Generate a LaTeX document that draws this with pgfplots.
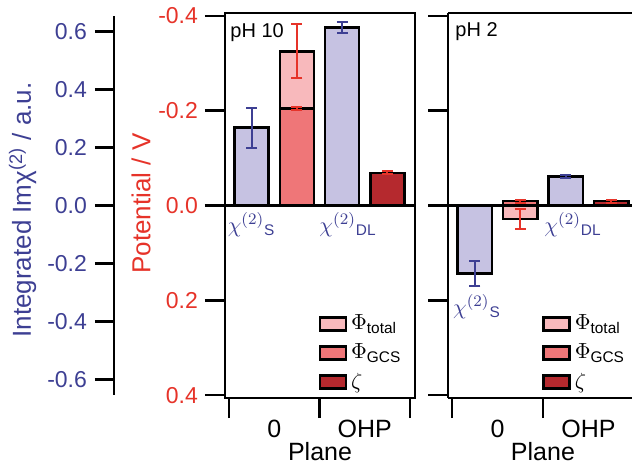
\documentclass[border=0pt]{standalone}
\usepackage{pgfplots}
\pgfplotsset{compat=1.18}
\usepackage{fontspec}
\setmainfont{Liberation Sans}
\definecolor{bluetxt}{RGB}{61,63,147}
\definecolor{redtxt}{RGB}{230,51,41}
\definecolor{lav}{RGB}{198,194,226}
\definecolor{pinkA}{RGB}{248,185,188}
\definecolor{pinkB}{RGB}{239,118,120}
\definecolor{darkred}{RGB}{181,41,46}
\newcommand\tfs{\fontsize{11.5}{13}\selectfont}
\newcommand\xfs{\fontsize{12.5}{14}\selectfont}
\newcommand\lfs{\fontsize{13}{15}\selectfont}
\newcommand\gfs{\fontsize{11}{13}\selectfont}
\pgfplotsset{
  mybar/.style={ybar, bar width=0.375, bar shift=0pt, draw=black, line width=1.2pt,
    legend image code/.code={\draw[##1, line width=1.2pt] (0pt,-3.25pt) rectangle (13pt,3.25pt);}},
  rederr/.style={error bars/.cd, y dir=both, y explicit,
    error bar style={redtxt, line width=1pt},
    error mark options={redtxt, rotate=90, mark size=2.75pt, line width=1pt}},
  blueerr/.style={error bars/.cd, y dir=both, y explicit,
    error bar style={bluetxt, line width=1pt},
    error mark options={bluetxt, rotate=90, mark size=2.75pt, line width=1pt}},
  redpanel/.style={
    anchor=south west, scale only axis, height=192.5pt,
    xmin=-0.044, ymin=-0.406, ymax=0.406, y dir=reverse,
    axis line style={line width=1.2pt},
    tick style={line width=1.2pt, black}, tick align=outside, major tick length=10pt,
    xtick={0,1,2}, xticklabels={},
    extra x ticks={0.5,1.5}, extra x tick labels={0,OHP},
    extra x tick style={major tick length=0pt, tick label style={font=\xfs, yshift=-7.5pt}},
    xtick pos=left, ytick pos=left,
    ytick={-0.4,-0.2,0,0.2,0.4},
    yticklabel style={redtxt, font=\tfs, /pgf/number format/.cd, fixed, fixed zerofill, precision=1, assume math mode=true},
    xlabel={Plane}, 
    legend style={draw=none, fill=none, font=\gfs, row sep=1.5pt, inner sep=0pt, anchor=north west},
    legend cell align=left,
  },
  bluepanel/.style={
    anchor=south west, scale only axis, height=192.5pt,
    xmin=-0.044, ymin=-0.664, ymax=0.664, hide axis,
  },
}
\begin{document}
\begin{tikzpicture}
\useasboundingbox (0,0) rectangle (316pt,234pt);
% panel 1 red
\begin{axis}[redpanel, at={(112.5pt,35pt)}, width=95pt, xmax=2.055,
  ylabel={Potential / V},
  ylabel style={redtxt, font=\lfs, at={([xshift=-42pt,yshift=1pt]rel axis cs:0,0.5)}, anchor=center},
  xlabel style={font=\xfs, at={(axis description cs:0.5,-0.138)}, anchor=center},
  extra y ticks={0}, extra y tick labels={}, extra y tick style={grid=major, major grid style={black, line width=1.2pt}},
  legend style={at={(axis description cs:0.491,0.227)}},
]
\addplot[mybar, fill=pinkA, rederr] coordinates {(0.75,-0.325) +- (0,0.057)};
\addlegendentry{$\Phi$\textsubscript{total}}
\addplot[mybar, fill=pinkB, rederr] coordinates {(0.75,-0.205) +- (0,0.003)};
\addlegendentry{$\Phi$\textsubscript{GCS}}
\addplot[mybar, fill=darkred, rederr] coordinates {(1.75,-0.069) +- (0,0.003)};
\addlegendentry{$\zeta$}
\node[anchor=north west, inner sep=0pt, font=\fontsize{10}{12}\selectfont] at ([xshift=2.5pt,yshift=-5pt]rel axis cs:0,1) {pH 10};
\end{axis}
% panel 1 blue (chi bars) + blue left axis line and ticks
\begin{axis}[bluepanel, at={(112.5pt,35pt)}, width=95pt, xmax=2.055, clip=false, unbounded coords=jump]
\addplot[mybar, fill=lav, blueerr] coordinates {(0.25,0.269) +- (0,0.069) (1.25,0.614) +- (0,0.02)};
\addplot[black, line width=1.2pt, mark=none] coordinates {(-1.271,-0.652) (-1.271,0.652)};
\addplot[black, line width=1.2pt, mark=none] coordinates {
  (-1.481,-0.6) (-1.271,-0.6) (-1.4,inf)
  (-1.481,-0.4) (-1.271,-0.4) (-1.4,inf)
  (-1.481,-0.2) (-1.271,-0.2) (-1.4,inf)
  (-1.481,0) (-1.271,0) (-1.4,inf)
  (-1.481,0.2) (-1.271,0.2) (-1.4,inf)
  (-1.481,0.4) (-1.271,0.4) (-1.4,inf)
  (-1.481,0.6) (-1.271,0.6)};
\node[bluetxt, font=\gfs] at (axis cs:0.25,-0.066) {$\chi^{(2)}$\textsubscript{S}};
\node[bluetxt, font=\gfs] at (axis cs:1.315,-0.066) {$\chi^{(2)}$\textsubscript{DL}};
\end{axis}
% panel 2 red
\begin{axis}[redpanel, at={(224pt,35pt)}, width=92pt, xmax=1.978,
  axis y line*=left, axis x line*=box,
  yticklabels={},
  xlabel style={font=\xfs, at={(axis description cs:0.516,-0.138)}, anchor=center},
  extra y ticks={0}, extra y tick labels={}, extra y tick style={grid=major, major grid style={black, line width=1.2pt}},
  legend style={at={(axis description cs:0.511,0.227)}},
]
\addplot[mybar, fill=pinkA, rederr] coordinates {(0.75,0.029) +- (0,0.021)};
\addlegendentry{$\Phi$\textsubscript{total}}
\addplot[mybar, fill=pinkB, rederr] coordinates {(0.75,-0.009) +- (0,0.003)};
\addlegendentry{$\Phi$\textsubscript{GCS}}
\addplot[mybar, fill=darkred, rederr] coordinates {(1.75,-0.009) +- (0,0.003)};
\addlegendentry{$\zeta$}
\node[anchor=north west, inner sep=0pt, font=\fontsize{10}{12}\selectfont] at ([xshift=3.5pt,yshift=-4.5pt]rel axis cs:0,1) {pH 2};
\end{axis}
\begin{axis}[bluepanel, at={(224pt,35pt)}, width=92pt, xmax=1.978]
\addplot[mybar, fill=lav, blueerr] coordinates {(0.25,-0.235) +- (0,0.043) (1.25,0.10) +- (0,0.004)};
\node[bluetxt, font=\gfs] at (axis cs:0.275,-0.348) {$\chi^{(2)}$\textsubscript{S}};
\node[bluetxt, font=\gfs] at (axis cs:1.33,-0.066) {$\chi^{(2)}$\textsubscript{DL}};
\end{axis}
% blue left axis: tick labels and title
\begin{axis}[at={(57pt,36.5pt)}, anchor=south west, scale only axis, width=20pt, height=189pt,
  ymin=-0.652, ymax=0.652, xmin=0, xmax=1,
  axis line style={draw=none},
  xtick=\empty, ytick pos=left,
  tick style={draw=none}, tick align=outside, major tick length=10pt,
  ytick={-0.6,-0.4,-0.2,0,0.2,0.4,0.6},
  yticklabel style={bluetxt, font=\tfs, /pgf/number format/.cd, fixed, fixed zerofill, precision=1, assume math mode=true},
  ylabel={Integrated Imχ\textsuperscript{(2)} / a.u.},
  ylabel style={bluetxt, font=\lfs, at={([xshift=-45.75pt,yshift=-2pt]rel axis cs:0,0.5)}, anchor=center},
]
\end{axis}
\end{tikzpicture}
\end{document}
